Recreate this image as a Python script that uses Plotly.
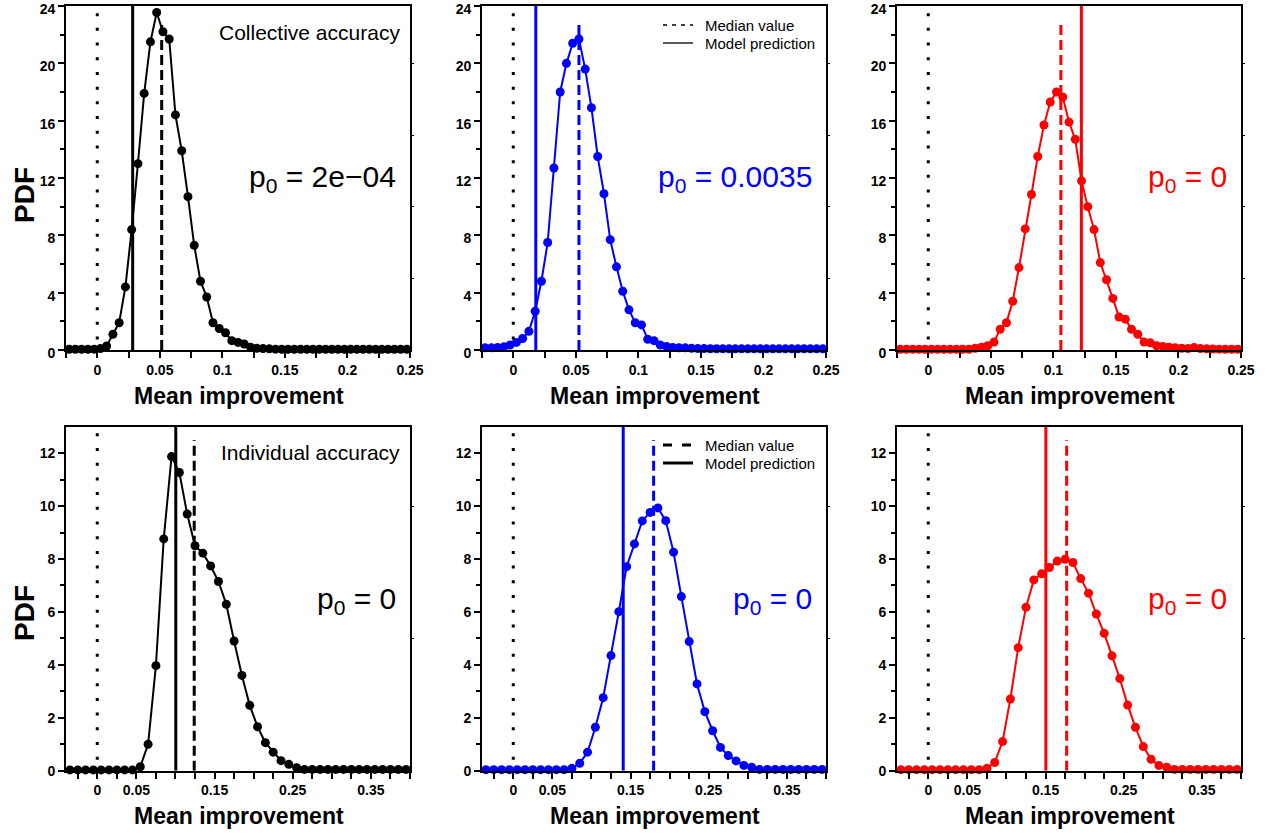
import plotly.graph_objects as go

# ---------------- data ----------------
BIN_TOP = [round(-0.0225 + 0.005 * i, 4) for i in range(55)]     # bin centres, top row
BIN_BOT = [round(-0.035 + 0.01 * i, 3) for i in range(44)]       # bin centres, bottom row

COLL_BLACK = [0.05, 0.05, 0.05, 0.05, 0.06, 0.1, 0.28, 1.1, 1.9, 4.4,
              8.4, 13.0, 17.9, 21.5, 23.55, 22.2, 21.7, 16.4, 13.9, 10.7,
              7.3, 4.8, 3.7, 1.9, 1.5, 1.2, 0.65, 0.53, 0.42, 0.2,
              0.12, 0.1, 0.08, 0.06, 0.05, 0.05, 0.05, 0.05, 0.05, 0.05,
              0.05, 0.05, 0.05, 0.05, 0.05, 0.05, 0.05, 0.05, 0.05, 0.05,
              0.05, 0.05, 0.05, 0.05, 0.05]
COLL_BLUE = [0.15, 0.15, 0.18, 0.22, 0.35, 0.53, 0.8, 1.3, 2.7, 4.8,
             7.5, 12.7, 18.0, 20.0, 21.4, 21.7, 19.6, 16.9, 13.5, 10.9,
             7.7, 5.8, 4.1, 2.8, 1.9, 1.75, 0.75, 0.65, 0.35, 0.25,
             0.18, 0.15, 0.15, 0.12, 0.1, 0.1, 0.09, 0.09, 0.08, 0.08,
             0.08, 0.08, 0.08, 0.08, 0.08, 0.08, 0.08, 0.08, 0.08, 0.08,
             0.08, 0.08, 0.08, 0.08, 0.08]
COLL_RED = [0.05, 0.05, 0.05, 0.05, 0.05, 0.05, 0.05, 0.05, 0.05, 0.05,
            0.05, 0.05, 0.12, 0.2, 0.3, 0.55, 1.45, 1.9, 3.4, 5.75,
            8.45, 10.85, 13.5, 15.7, 17.3, 18.0, 17.65, 15.9, 14.7, 11.8,
            10.0, 8.4, 6.1, 4.9, 3.6, 2.3, 2.15, 1.45, 1.1, 0.55,
            0.5, 0.3, 0.25, 0.2, 0.15, 0.12, 0.1, 0.18, 0.1, 0.08,
            0.07, 0.06, 0.05, 0.05, 0.05]

IND_BLACK = [0.03, 0.03, 0.03, 0.03, 0.03, 0.03, 0.03, 0.03, 0.03, 0.15,
             1.0, 3.97, 8.76, 11.87, 11.27, 9.7, 8.5, 8.22, 7.74, 7.15,
             6.29, 4.9, 3.6, 2.47, 1.66, 1.06, 0.7, 0.38, 0.24, 0.11,
             0.05, 0.05, 0.05, 0.05, 0.05, 0.05, 0.05, 0.05, 0.05, 0.05,
             0.05, 0.05, 0.05, 0.05]
IND_BLUE = [0.04, 0.04, 0.04, 0.04, 0.04, 0.04, 0.04, 0.04, 0.04, 0.04,
            0.04, 0.09, 0.28, 0.7, 1.64, 2.76, 4.35, 6.01, 7.71, 8.57,
            9.44, 9.76, 9.93, 9.45, 8.26, 6.58, 4.88, 3.28, 2.23, 1.51,
            0.88, 0.57, 0.37, 0.2, 0.13, 0.05, 0.05, 0.05, 0.05, 0.05,
            0.05, 0.05, 0.05, 0.05]
IND_RED = [0.04, 0.04, 0.04, 0.04, 0.04, 0.04, 0.04, 0.04, 0.04, 0.04,
           0.04, 0.09, 0.31, 1.1, 2.71, 4.65, 6.18, 7.21, 7.44, 7.68,
           7.92, 7.99, 7.87, 7.26, 6.71, 5.92, 5.19, 4.34, 3.48, 2.48,
           1.64, 0.91, 0.43, 0.2, 0.13, 0.05, 0.05, 0.05, 0.05, 0.05,
           0.05, 0.05, 0.05, 0.05]

MEDIAN = [0.0515, 0.0525, 0.106, 0.124, 0.1795, 0.177]
MODEL = [0.0283, 0.018, 0.1224, 0.1004, 0.1406, 0.1504]
P0_TEXT = ["2e\u221204", "0.0035", "0", "0", "0", "0"]
COLORS = ["#000000", "#0000FF", "#FF0000"]

TOP_X_TICKS = [0, 0.05, 0.1, 0.15, 0.2, 0.25]
TOP_X_LABELS = ["0", "0.05", "0.1", "0.15", "0.2", "0.25"]
BOT_X_TICKS = [0, 0.05, 0.15, 0.25, 0.35]
BOT_X_LABELS = ["0", "0.05", "0.15", "0.25", "0.35"]
TOP_Y_TICKS = [0, 4, 8, 12, 16, 20, 24]
BOT_Y_TICKS = [0, 2, 4, 6, 8, 10, 12]

# ---------------- layout helpers ----------------
W, H = 1270, 834
FONT = "Liberation Sans, Arial, sans-serif"
XD = [(66, 410), (482, 826), (897, 1241)]
YD = [(6, 350), (426.7, 770.7)]


def px_x(p):
    return p / W


def px_y(p):
    return 1 - p / H


def bold(vals):
    return [f"<b>{v}</b>" for v in vals]


TICKFONT = dict(family=FONT, size=14, color="black", weight="bold")

fig = go.Figure()
layout = dict(template="none", width=W, height=H, margin=dict(l=0, r=0, t=0, b=0, pad=0),
              paper_bgcolor="white", plot_bgcolor="white", showlegend=False,
              font=dict(family=FONT, color="black"))
annotations = []
shapes = []

series = [(BIN_TOP, COLL_BLACK), (BIN_TOP, COLL_BLUE), (BIN_TOP, COLL_RED),
          (BIN_BOT, IND_BLACK), (BIN_BOT, IND_BLUE), (BIN_BOT, IND_RED)]

for i in range(6):
    row, col = divmod(i, 3)
    n = i + 1
    xa, ya = f"x{n}", f"y{n}"
    color = COLORS[col]
    top = row == 0
    ymax = 24 if top else 13
    xr = [-0.025, 0.25] if top else [-0.04, 0.4]
    xs, ys = series[i]

    # dotted zero line
    fig.add_trace(go.Scatter(x=[0, 0], y=[23.5 if top else 12.75, 0], mode="lines",
                             line=dict(color="black", width=3, dash="3px,11.7px"),
                             xaxis=xa, yaxis=ya, hoverinfo="skip"))
    # PDF curve
    fig.add_trace(go.Scatter(x=xs, y=ys, mode="lines+markers",
                             line=dict(color=color, width=2),
                             marker=dict(color=color, size=9),
                             cliponaxis=False, xaxis=xa, yaxis=ya))
    # median (dashed)
    fig.add_trace(go.Scatter(x=[MEDIAN[i], MEDIAN[i]], y=[0, 23.0 if top else 12.5],
                             mode="lines", line=dict(color=color, width=3, dash="10px,5px"),
                             xaxis=xa, yaxis=ya, hoverinfo="skip"))
    # model prediction (solid)
    fig.add_trace(go.Scatter(x=[MODEL[i], MODEL[i]], y=[0, ymax],
                             mode="lines", line=dict(color=color, width=3),
                             xaxis=xa, yaxis=ya, hoverinfo="skip"))

    xkey = "xaxis" if n == 1 else f"xaxis{n}"
    ykey = "yaxis" if n == 1 else f"yaxis{n}"
    if top:
        xminor = [-0.025, 0.025, 0.075, 0.125, 0.175, 0.225]
        xt, xl = TOP_X_TICKS, TOP_X_LABELS
        yt = TOP_Y_TICKS
        ym = list(range(2, 24, 4))
        rticks = [5, 10, 15, 20]
    else:
        xminor = [-0.025, 0.025, 0.075, 0.1, 0.125, 0.175, 0.2, 0.225, 0.275, 0.3,
                  0.325, 0.375, 0.4]
        xt, xl = BOT_X_TICKS, BOT_X_LABELS
        yt = BOT_Y_TICKS
        ym = list(range(1, 13, 2))
        rticks = [5, 10]

    common = dict(showline=True, mirror=True, linecolor="black", linewidth=1.6,
                  showgrid=False, zeroline=False, ticks="outside", tickcolor="black",
                  tickwidth=1.6, ticklen=6, ticklabeloverflow="allow", automargin=False,
                  tickfont=dict(TICKFONT))
    layout[xkey] = dict(common, domain=[px_x(XD[col][0]), px_x(XD[col][1])], anchor=ya,
                        range=xr, tickmode="array", tickvals=xt, ticktext=bold(xl),
                        minor=dict(tickvals=xminor, ticks="outside", ticklen=6,
                                   tickwidth=1.6, tickcolor="black", showgrid=False))
    layout[ykey] = dict(common, domain=[px_y(YD[row][1]), px_y(YD[row][0])], anchor=xa,
                        range=[0, ymax], tickmode="array", tickvals=yt,
                        ticktext=bold(yt), ticklabelshift=3 if top else 0,
                        minor=dict(tickvals=ym, ticks="outside", ticklen=4,
                                   tickwidth=1.6, tickcolor="black", showgrid=False))

    # right-hand tick axis
    rn = n + 6
    layout[f"yaxis{rn}"] = dict(overlaying=ya, side="right", anchor=xa, range=[0, ymax],
                                tickvals=rticks, showticklabels=False, ticks="outside",
                                ticklen=3, tickwidth=1.2, tickcolor="black", automargin=False,
                                showgrid=False, zeroline=False, showline=False)
    fig.add_trace(go.Scatter(x=[None], y=[None], xaxis=xa, yaxis=f"y{rn}",
                             mode="markers", hoverinfo="skip"))

    # axis titles
    annotations.append(dict(xref="paper", yref="paper",
                            x=px_x((XD[col][0] + XD[col][1]) / 2 + 1),
                            y=px_y(396 if top else 816),
                            xanchor="center", yanchor="middle", showarrow=False,
                            text="<b>Mean improvement</b>",
                            font=dict(family=FONT, size=23, color="black")))
    if col == 0:
        annotations.append(dict(xref="paper", yref="paper", x=px_x(24),
                                y=px_y(195 if top else 613),
                                xanchor="center", yanchor="middle", showarrow=False,
                                textangle=-90, text="<b>PDF</b>",
                                font=dict(family=FONT, size=28, color="black")))

    # p0 annotation
    x_right = XD[col][1] - 12
    y_center = 178 if top else 600
    annotations.append(dict(xref="paper", yref="paper", x=px_x(x_right), y=px_y(y_center),
                            xanchor="right", yanchor="middle", showarrow=False,
                            text=f"p<sub>0</sub> = {P0_TEXT[i]}",
                            font=dict(family=FONT, size=30, color=color)))

# panel labels
annotations.append(dict(xref="paper", yref="paper", x=px_x(402), y=px_y(33),
                        xanchor="right", yanchor="middle", showarrow=False,
                        text="Collective accuracy", font=dict(family=FONT, size=21)))
annotations.append(dict(xref="paper", yref="paper", x=px_x(402), y=px_y(453),
                        xanchor="right", yanchor="middle", showarrow=False,
                        text="Individual accuracy", font=dict(family=FONT, size=21)))

# legends in middle panels
for (ym_, yp_, w_, dash_) in [(25, 43, 1.3, "4px,5px"), (445, 463, 3, "9px,10px")]:
    shapes.append(dict(type="line", xref="paper", yref="paper",
                       x0=px_x(663), x1=px_x(693), y0=px_y(ym_), y1=px_y(ym_),
                       line=dict(color="black", width=w_, dash=dash_)))
    shapes.append(dict(type="line", xref="paper", yref="paper",
                       x0=px_x(663), x1=px_x(693), y0=px_y(yp_), y1=px_y(yp_),
                       line=dict(color="black", width=w_)))
    annotations.append(dict(xref="paper", yref="paper", x=px_x(703), y=px_y(ym_),
                            xanchor="left", yanchor="middle", showarrow=False,
                            text="Median value", font=dict(family=FONT, size=15)))
    annotations.append(dict(xref="paper", yref="paper", x=px_x(703), y=px_y(yp_),
                            xanchor="left", yanchor="middle", showarrow=False,
                            text="Model prediction", font=dict(family=FONT, size=15)))

layout["annotations"] = annotations
layout["shapes"] = shapes
fig.update_layout(**layout)
fig.update_xaxes(tickfont=TICKFONT, automargin=False)
fig.update_yaxes(tickfont=TICKFONT, automargin=False)
fig.write_html("out.html")
